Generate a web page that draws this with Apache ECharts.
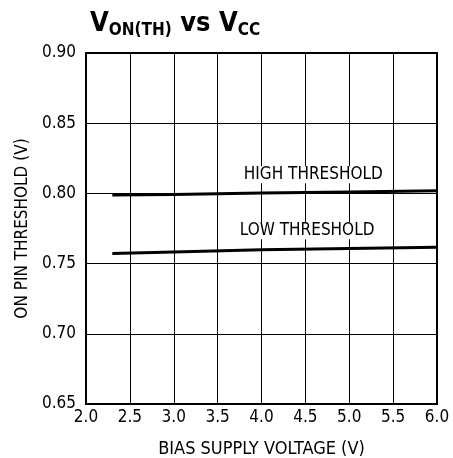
<!DOCTYPE html>
<html><head><meta charset="utf-8">
<script src="https://cdn.jsdelivr.net/npm/echarts@6/dist/echarts.min.js"></script>
<style>html,body{margin:0;padding:0;background:#fff}#c{width:453px;height:458px}</style>
</head><body><div id="c"></div>
<script>
const biasVoltage = [2.3, 3.0, 4.0, 5.0, 6.0];
const highThreshold = [0.7988, 0.7993, 0.8002, 0.8010, 0.8018];
const lowThreshold = [0.7572, 0.7583, 0.7598, 0.7608, 0.7616];
const xTicks = [2.0, 2.5, 3.0, 3.5, 4.0, 4.5, 5.0, 5.5, 6.0];
const yTicks = [0.65, 0.70, 0.75, 0.80, 0.85, 0.90];
const annotationText = ['HIGH THRESHOLD', 'LOW THRESHOLD'];
const annotationX = [4.59, 4.52];
const annotationY = [0.8132, 0.7734];

const FONT = '"Liberation Sans Narrow", "DejaVu Sans Condensed", "Liberation Sans", sans-serif';
const chart = echarts.init(document.getElementById('c'), null, {renderer: 'canvas'});
chart.setOption({
  animation: false,
  backgroundColor: '#fff',
  title: {
    left: 85, top: 5,
    text: '{v|V}{s|ON(TH)}{v| vs V}{s|CC}',
    textStyle: {
      rich: {
        v: {fontFamily: FONT, fontWeight: 'bold', fontSize: 27, lineHeight: 28, verticalAlign: 'top', color: '#000'},
        s: {fontFamily: FONT, fontWeight: 'bold', fontSize: 17, lineHeight: 18, padding: [12, 0, 0, 0], verticalAlign: 'top', color: '#000'}
      }
    }
  },
  grid: {left: 86, right: 16, top: 53, bottom: 54, show: true, borderColor: '#000', borderWidth: 2,
         containLabel: false, outerBoundsMode: 'none'},
  xAxis: {
    type: 'value', min: xTicks[0], max: xTicks[xTicks.length - 1], interval: 0.5,
    name: 'BIAS SUPPLY VOLTAGE (V)', nameLocation: 'middle', nameGap: 36,
    nameTextStyle: {fontFamily: FONT, fontSize: 18, color: '#000'},
    axisLine: {show: true, lineStyle: {color: '#000', width: 2}},
    axisTick: {show: false},
    axisLabel: {fontFamily: FONT, fontSize: 17, color: '#000', margin: 5, formatter: v => v.toFixed(1)},
    splitLine: {show: true, lineStyle: {color: '#000', width: 1}}
  },
  yAxis: {
    type: 'value', min: yTicks[0], max: yTicks[yTicks.length - 1], interval: 0.05,
    name: 'ON PIN THRESHOLD (V)', nameLocation: 'middle', nameGap: 50, nameRotate: 90,
    nameTextStyle: {fontFamily: FONT, fontSize: 17, color: '#000'},
    axisLine: {show: true, lineStyle: {color: '#000', width: 2}},
    axisTick: {show: false},
    axisLabel: {fontFamily: FONT, fontSize: 17, color: '#000', margin: 10, formatter: v => v.toFixed(2)},
    splitLine: {show: true, lineStyle: {color: '#000', width: 1}}
  },
  series: [
    {type: 'line', data: biasVoltage.map((x, i) => [x, highThreshold[i]]), showSymbol: false,
     lineStyle: {color: '#000', width: 3}},
    {type: 'line', data: biasVoltage.map((x, i) => [x, lowThreshold[i]]), showSymbol: false,
     lineStyle: {color: '#000', width: 3}},
    {type: 'scatter', symbolSize: 0, silent: true,
     data: annotationText.map((t, i) => ({value: [annotationX[i], annotationY[i]], name: t})),
     label: {show: true, position: 'inside', formatter: p => p.name, opacity: 1,
       fontFamily: FONT, fontSize: 17, color: '#000', textBorderWidth: 0, backgroundColor: '#fff', padding: [0, 2]}}
  ]
});
</script></body></html>
